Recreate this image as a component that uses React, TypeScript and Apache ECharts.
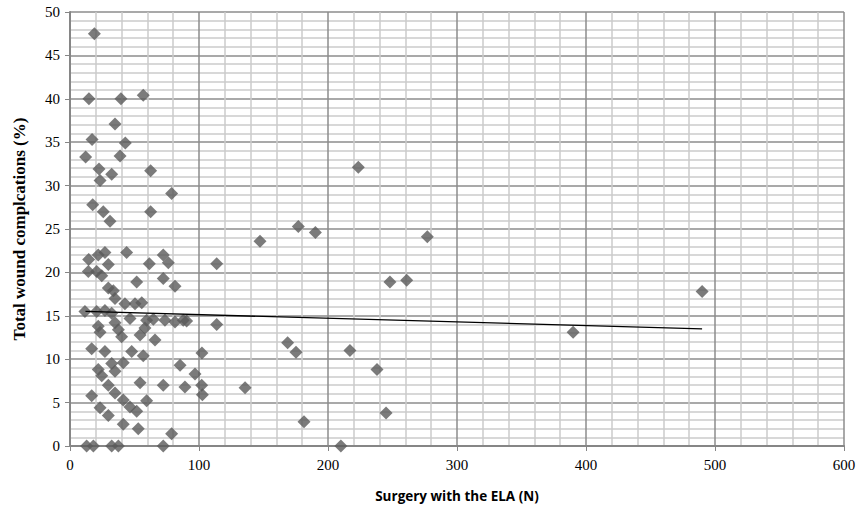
import React, { useEffect, useRef } from "react";
import * as echarts from "echarts";

const surgeryN: number[] = [
  18.9, 14.7, 39.5, 56.8, 34.9, 17.1, 42.9, 12.1, 38.8, 22.5,
  32.3, 23.3, 62.5, 78.8, 17.6, 25.8, 62.5, 31.0, 43.9, 14.5,
  27.1, 21.9, 72.3, 76.2, 61.5, 29.7, 14.2, 20.7, 24.6, 51.7,
  72.3, 81.4, 29.7, 33.6, 34.9, 42.6, 50.4, 55.6, 11.6, 20.7,
  27.1, 32.3, 21.9, 23.3, 34.9, 37.5, 40.0, 46.5, 59.4, 64.6,
  73.6, 81.4, 87.8, 90.4, 58.1, 54.3, 65.9, 16.8, 27.1, 47.8,
  56.8, 32.3, 41.3, 85.3, 21.9, 34.9, 24.6, 54.3, 72.3, 89.1,
  29.7, 34.9, 16.8, 41.3, 59.4, 23.3, 46.5, 51.7, 29.7, 41.3,
  52.9, 78.8, 12.9, 18.1, 32.3, 37.5, 72.3, 210,
  113.7, 147.3, 177, 190.2, 223.5, 277, 248, 261, 113.7, 102.3,
  168.7, 175.2, 96.9, 102.1, 102.6, 135.7, 181.4, 217, 238, 245,
  390, 490,
];

const woundPct: number[] = [
  47.5, 40.0, 40.0, 40.4, 37.1, 35.3, 34.9, 33.3, 33.4, 31.9,
  31.3, 30.6, 31.7, 29.1, 27.8, 27.0, 27.0, 25.9, 22.3, 21.5,
  22.3, 22.0, 22.0, 21.1, 21.0, 20.9, 20.1, 20.1, 19.6, 18.9,
  19.3, 18.4, 18.2, 17.9, 17.0, 16.4, 16.4, 16.5, 15.5, 15.5,
  15.6, 15.3, 13.8, 13.1, 14.2, 13.4, 12.6, 14.7, 14.5, 14.6,
  14.5, 14.3, 14.5, 14.4, 13.6, 12.8, 12.2, 11.2, 10.9, 10.9,
  10.4, 9.5, 9.6, 9.3, 8.8, 8.6, 8.1, 7.3, 7.0, 6.8,
  7.0, 6.1, 5.8, 5.3, 5.2, 4.4, 4.5, 4.0, 3.5, 2.5,
  2.0, 1.4, 0, 0, 0, 0, 0, 0,
  21.0, 23.6, 25.3, 24.6, 32.1, 24.1, 18.9, 19.1, 14.0, 10.7,
  11.9, 10.8, 8.3, 7.0, 5.9, 6.7, 2.8, 11.0, 8.8, 3.8,
  13.1, 17.8,
];

const trendX: number[] = [12, 490];
const trendY: number[] = [15.5, 13.5];

const xTicks = { min: 0, max: 600, interval: 100 };
const yTicks = { min: 0, max: 50, interval: 5 };

export default function App() {
  const ref = useRef<HTMLDivElement>(null);
  useEffect(() => {
    document.body.style.margin = "0";
    if (!ref.current) return;
    const chart = echarts.init(ref.current, null, { renderer: "svg" });
    const points = surgeryN.map((x, i) => [x, woundPct[i]]);
    const trend = trendX.map((x, i) => [x, trendY[i]]);
    const labelFont = {
      fontFamily: "'Liberation Serif', 'DejaVu Serif', serif",
      fontSize: 15,
      color: "#000",
    };
    chart.setOption({
      animation: false,
      backgroundColor: "#fff",
      grid: { left: 70, right: 16, top: 12, bottom: 65, containLabel: false },
      xAxis: {
        type: "value",
        min: xTicks.min,
        max: xTicks.max,
        interval: xTicks.interval,
        name: "Surgery with the ELA (N)",
        nameLocation: "middle",
        nameGap: 43,
        nameTextStyle: {
          fontFamily: "'Open Sans', sans-serif",
          fontWeight: "bold",
          fontSize: 13.5,
          color: "#000",
        },
        axisLine: { show: true, lineStyle: { color: "#868686", width: 2 } },
        axisTick: { show: true, inside: false, length: 5, lineStyle: { color: "#868686" } },
        axisLabel: { ...labelFont, margin: 11 },
        splitLine: { show: true, lineStyle: { color: "#8c8c8c", width: 1.5 } },
        minorTick: { show: false, splitNumber: 5 },
        minorSplitLine: { show: true, lineStyle: { color: "#cbcbcb", width: 1.5 } },
      },
      yAxis: {
        type: "value",
        min: yTicks.min,
        max: yTicks.max,
        interval: yTicks.interval,
        name: "Total wound complcations (%)",
        nameLocation: "middle",
        nameGap: 42,
        nameTextStyle: {
          fontFamily: "'Liberation Serif', 'DejaVu Serif', serif",
          fontWeight: "bold",
          fontSize: 17,
          color: "#000",
        },
        axisLine: { show: true, lineStyle: { color: "#868686", width: 2 } },
        axisTick: { show: true, inside: false, length: 5, lineStyle: { color: "#868686" } },
        axisLabel: { ...labelFont, margin: 10 },
        splitLine: { show: true, lineStyle: { color: "#8c8c8c", width: 1.5 } },
        minorTick: { show: false, splitNumber: 5 },
        minorSplitLine: { show: true, lineStyle: { color: "#cbcbcb", width: 1.5 } },
      },
      series: [
        {
          type: "scatter",
          data: points,
          symbol: "diamond",
          symbolSize: 13,
          itemStyle: { color: "#5a5a5a" },
          z: 3,
        },
        {
          type: "line",
          data: trend,
          symbol: "none",
          lineStyle: { color: "#000", width: 1.3 },
          z: 4,
        },
      ],
    });
    return () => chart.dispose();
  }, []);
  return <div ref={ref} style={{ width: 860, height: 511 }} />;
}
